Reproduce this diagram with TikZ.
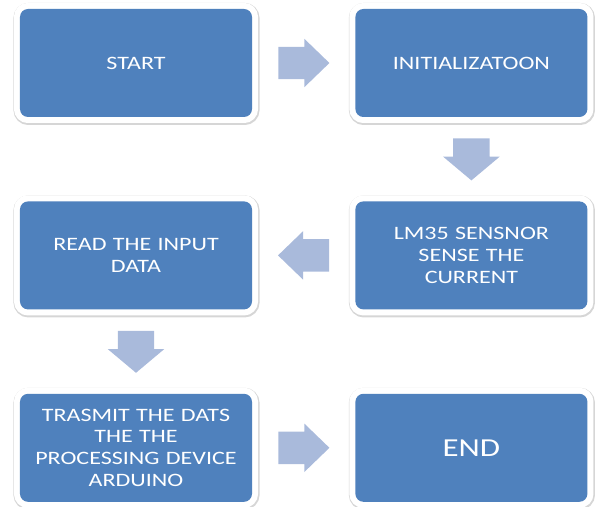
\documentclass[tikz,border=0pt]{standalone}
\usepackage{fontspec}
\setmainfont{Carlito}
\newfontfamily\boxfont[FakeStretch=1.27]{Carlito}
\usepackage{tikz}
\usetikzlibrary{shapes,arrows,positioning,calc}

\definecolor{boxblue}{HTML}{4F81BD}
\definecolor{arrowblue}{HTML}{A9BADB}

\begin{document}
\begin{tikzpicture}[
    x=1bp, y=-1bp,
    node distance=84bp and 103bp,
    stepbox/.style={rectangle, rounded corners=8bp, fill=boxblue, text=white, align=center,
        font=\boxfont\fontsize{19}{22}\selectfont, text width=222bp, inner sep=0pt,
        minimum width=232bp, minimum height=108bp,
        preaction={draw=black!16, line width=14bp, transform canvas={xshift=0.5bp, yshift=-1bp}},
        preaction={draw=white, line width=12bp}},
    hflow/.style={single arrow, fill=arrowblue, draw=none, inner xsep=0pt, inner ysep=16bp, anchor=tail,
        minimum height=51bp, single arrow head extend=8bp, single arrow tip angle=88},
    vflow/.style={single arrow, fill=arrowblue, draw=none, inner xsep=0pt, inner ysep=18bp, anchor=tail, rotate=-90,
        minimum height=42bp, single arrow head extend=10bp, single arrow tip angle=100}
]
\useasboundingbox (0,0) rectangle (596,507);

% Top row
\node[stepbox] (start) at (136,63) {START};
\node[stepbox, right=of start] (init) {INITIALIZATOON};

% Middle row
\node[stepbox, below=of init] (sense) {LM35 SENSNOR\\SENSE THE\\CURRENT};
\node[stepbox, below=of start] (read) {READ THE INPUT\\DATA};

% Bottom row
\node[stepbox, below=of read] (send) {TRASMIT THE DATS\\THE THE\\PROCESSING DEVICE\\ARDUINO};
\node[stepbox, right=of send, font=\boxfont\fontsize{26}{30}\selectfont] (stop) {END};

% Block arrows between the steps
\node[hflow] (a1) at ($(start.east)!0.5!(init.west)+(-25.5,0)$) {};
\node[vflow] (a2) at ($(init.south)!0.5!(sense.north)+(0,-21)$) {};
\node[hflow, rotate=180] (a3) at ($(sense.west)!0.5!(read.east)+(25.5,0)$) {};
\node[vflow] (a4) at ($(read.south)!0.5!(send.north)+(0,-21)$) {};
\node[hflow] (a5) at ($(send.east)!0.5!(stop.west)+(-25.5,0)$) {};

\end{tikzpicture}
\end{document}
